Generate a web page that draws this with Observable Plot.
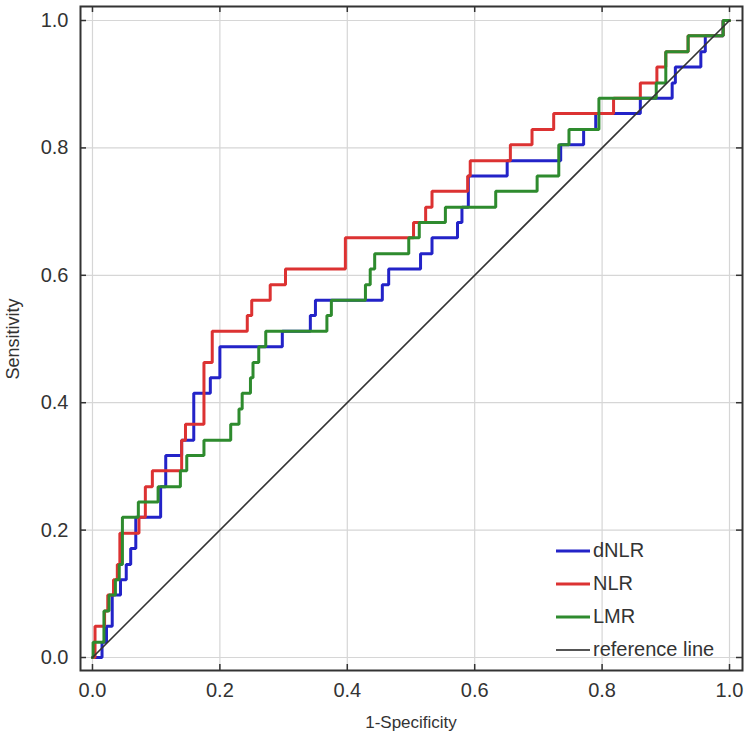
<!DOCTYPE html>
<html>
<head>
<meta charset="utf-8">
<script src="https://cdn.jsdelivr.net/npm/d3@7"></script>
<script src="https://cdn.jsdelivr.net/npm/@observablehq/plot@0.6"></script>
<style>
  html, body { margin: 0; padding: 0; background: #fff; }
  #wrap { position: relative; width: 750px; height: 746px; overflow: hidden; }
  .title { position: absolute; color: #333; font-family: "Liberation Sans", Arial, sans-serif; white-space: nowrap; }
  #xtitle { left: 0; width: 822px; top: 713px; text-align: center; font-size: 17px; }
  #ytitle { left: 13px; top: 339px; font-size: 18px; transform: translate(-50%, -50%) rotate(-90deg); }
  #legend { position: absolute; left: 556px; top: 534px; font-family: "Liberation Sans", Arial, sans-serif; font-size: 20px; color: #333; }
  #legend .row { display: flex; align-items: center; height: 33px; }
  #legend svg { display: block; margin-right: 1px; }
</style>
</head>
<body>
<div id="wrap">
  <div id="chart"></div>
  <div id="xtitle" class="title"></div>
  <div id="ytitle" class="title"></div>
  <div id="legend"></div>
</div>
<script>
// ---- data ----
const seriesNames = ["dNLR", "NLR", "LMR"];
const seriesColors = ["#2323c8", "#dc3232", "#2e8b2e"];
const refName = "reference line";
const refColor = "#333333";

const dNLR_fpr = [0, 0.015, 0.022, 0.031, 0.044, 0.053, 0.060, 0.068, 0.107, 0.115, 0.140, 0.159, 0.185, 0.200, 0.298, 0.342, 0.350, 0.455, 0.465, 0.515, 0.533, 0.573, 0.580, 0.590, 0.651, 0.735, 0.771, 0.790, 0.860, 0.910, 0.915, 0.955, 0.962, 0.990, 1.0];
const dNLR_tpr = [0, 0.024, 0.049, 0.098, 0.122, 0.146, 0.171, 0.220, 0.268, 0.317, 0.341, 0.415, 0.439, 0.488, 0.512, 0.537, 0.561, 0.585, 0.610, 0.634, 0.659, 0.683, 0.707, 0.756, 0.780, 0.805, 0.829, 0.854, 0.878, 0.902, 0.927, 0.951, 0.976, 1.0, 1.0];

const NLR_fpr = [0, 0.004, 0.019, 0.024, 0.033, 0.039, 0.043, 0.073, 0.083, 0.094, 0.140, 0.146, 0.175, 0.188, 0.243, 0.250, 0.279, 0.303, 0.397, 0.504, 0.523, 0.533, 0.589, 0.593, 0.656, 0.690, 0.724, 0.818, 0.860, 0.886, 0.900, 0.935, 0.990, 1.0];
const NLR_tpr = [0, 0.049, 0.073, 0.098, 0.122, 0.146, 0.195, 0.220, 0.268, 0.293, 0.341, 0.366, 0.463, 0.512, 0.537, 0.561, 0.585, 0.610, 0.659, 0.683, 0.707, 0.732, 0.756, 0.780, 0.805, 0.829, 0.854, 0.878, 0.902, 0.927, 0.951, 0.976, 1.0, 1.0];

const LMR_fpr = [0, 0.001, 0.018, 0.026, 0.036, 0.042, 0.047, 0.072, 0.103, 0.138, 0.148, 0.175, 0.217, 0.230, 0.235, 0.248, 0.252, 0.261, 0.272, 0.368, 0.375, 0.4285, 0.436, 0.443, 0.4965, 0.513, 0.554, 0.633, 0.698, 0.732, 0.748, 0.795, 0.885, 0.900, 0.935, 0.990, 1.0];
const LMR_tpr = [0, 0.024, 0.073, 0.098, 0.122, 0.146, 0.220, 0.244, 0.268, 0.293, 0.317, 0.341, 0.366, 0.390, 0.415, 0.439, 0.463, 0.488, 0.512, 0.537, 0.561, 0.585, 0.610, 0.634, 0.659, 0.683, 0.707, 0.732, 0.756, 0.805, 0.829, 0.878, 0.902, 0.951, 0.976, 1.0, 1.0];

const ref_fpr = [0, 1];
const ref_tpr = [0, 1];

const tickValues = [0, 0.2, 0.4, 0.6, 0.8, 1.0];
const tickLabels = ["0.0", "0.2", "0.4", "0.6", "0.8", "1.0"];
const xTitle = "1-Specificity";
const yTitle = "Sensitivity";

// ---- build tables ----
const toRows = (fpr, tpr, name) => fpr.map((f, i) => ({fpr: f, tpr: tpr[i], series: name}));
const rowsD = toRows(dNLR_fpr, dNLR_tpr, "dNLR");
const rowsN = toRows(NLR_fpr, NLR_tpr, "NLR");
const rowsL = toRows(LMR_fpr, LMR_tpr, "LMR");
const rowsRef = toRows(ref_fpr, ref_tpr, refName);

const W = 750, H = 746;
const mL = 80, mR = 8, mT = 6, mB = 76;
const xDom = [-0.0188, 1.0204];
const yDom = [-0.0204, 1.022];
const tickPx = 6;
const xTickLen = tickPx / (W - mL - mR) * (xDom[1] - xDom[0]);
const yTickLen = tickPx / (H - mT - mB) * (yDom[1] - yDom[0]);
const fmt = d => tickLabels[tickValues.findIndex(t => Math.abs(t - d) < 1e-9)];

const plot = Plot.plot({
  width: W, height: H,
  marginLeft: mL, marginRight: mR, marginTop: mT, marginBottom: mB,
  x: {domain: xDom},
  y: {domain: yDom},
  color: {domain: [...seriesNames, refName], range: [...seriesColors, refColor]},
  style: {background: "#fff", color: "#333", fontFamily: "'Liberation Sans', Arial, sans-serif"},
  marks: [
    Plot.gridX(tickValues, {stroke: "#d6d6d6", strokeOpacity: 1, strokeWidth: 1.2}),
    Plot.gridY(tickValues, {stroke: "#d6d6d6", strokeOpacity: 1, strokeWidth: 1.2}),
    Plot.axisX(tickValues, {anchor: "bottom", tickSize: 0, tickPadding: 12, tickFormat: fmt, fontSize: 20, label: null}),
    Plot.axisY(tickValues, {anchor: "left", tickSize: 0, tickPadding: 12, tickFormat: fmt, fontSize: 20, label: null}),
    // inward tick marks on all four sides
    Plot.ruleX(tickValues, {x: d => d, y1: yDom[0], y2: yDom[0] + yTickLen, stroke: "#333", strokeWidth: 1.5}),
    Plot.ruleX(tickValues, {x: d => d, y1: yDom[1], y2: yDom[1] - yTickLen, stroke: "#333", strokeWidth: 1.5}),
    Plot.ruleY(tickValues, {y: d => d, x1: xDom[0], x2: xDom[0] + xTickLen, stroke: "#333", strokeWidth: 1.5}),
    Plot.ruleY(tickValues, {y: d => d, x1: xDom[1], x2: xDom[1] - xTickLen, stroke: "#333", strokeWidth: 1.5}),
    Plot.line(rowsD, {x: "fpr", y: "tpr", stroke: "series", curve: "step-after", strokeWidth: 3, strokeLinejoin: "miter"}),
    Plot.line(rowsN, {x: "fpr", y: "tpr", stroke: "series", curve: "step-after", strokeWidth: 3, strokeLinejoin: "miter"}),
    Plot.line(rowsL, {x: "fpr", y: "tpr", stroke: "series", curve: "step-after", strokeWidth: 3, strokeLinejoin: "miter"}),
    Plot.line(rowsRef, {x: "fpr", y: "tpr", stroke: "series", strokeWidth: 1.6}),
    Plot.frame({stroke: "#333", strokeWidth: 2})
  ]
});
document.getElementById("chart").appendChild(plot);

document.getElementById("xtitle").textContent = xTitle;
document.getElementById("ytitle").textContent = yTitle;

// legend
const legend = document.getElementById("legend");
const legendItems = [...seriesNames.map((n, i) => ({name: n, color: seriesColors[i], w: 3})), {name: refName, color: "#555", w: 2}];
legendItems.forEach(it => {
  const row = document.createElement("div");
  row.className = "row";
  row.innerHTML = `<svg width="36" height="10"><line x1="0" x2="34" y1="5" y2="5" stroke="${it.color}" stroke-width="${it.w}"/></svg><span>${it.name}</span>`;
  legend.appendChild(row);
});
</script>
</body>
</html>
